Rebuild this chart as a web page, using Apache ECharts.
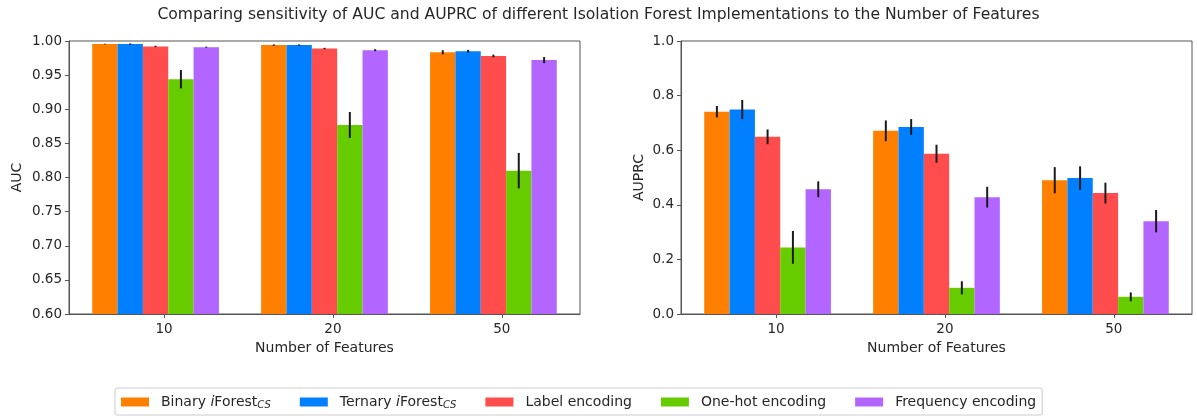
<!DOCTYPE html>
<html>
<head>
<meta charset="utf-8">
<script src="https://cdn.jsdelivr.net/npm/echarts@6/dist/echarts.min.js"></script>
<style>
  html, body { margin: 0; padding: 0; background: #fff; }
  #chart { width: 1197px; height: 419px; }
</style>
</head>
<body>
<div id="chart"></div>
<script>
// Number of features on the x axis
const featureCounts = ['10', '20', '50'];

// Implementations compared (the "_CS" suffix is rendered as a subscript)
const methodNames = [
  'Binary iForest_CS',
  'Ternary iForest_CS',
  'Label encoding',
  'One-hot encoding',
  'Frequency encoding'
];

// AUC mean and spread, one row per implementation, one column per feature count
const aucMean = [
  [0.9955, 0.994, 0.9835],
  [0.9955, 0.994, 0.985],
  [0.992, 0.989, 0.978],
  [0.944, 0.877, 0.810],
  [0.991, 0.9865, 0.972]
];
const aucErr = [
  [0.0005, 0.001, 0.003],
  [0.001, 0.001, 0.002],
  [0.001, 0.001, 0.002],
  [0.0135, 0.019, 0.026],
  [0.0008, 0.0015, 0.0045]
];

// AUPRC mean and spread
const auprcMean = [
  [0.741, 0.671, 0.490],
  [0.749, 0.685, 0.498],
  [0.649, 0.587, 0.443],
  [0.244, 0.096, 0.063],
  [0.457, 0.428, 0.340]
];
const auprcErr = [
  [0.021, 0.038, 0.048],
  [0.035, 0.029, 0.043],
  [0.027, 0.033, 0.038],
  [0.060, 0.024, 0.016],
  [0.029, 0.038, 0.041]
];

// ---- styling ----
const methodColors = ['#ff7f00', '#007fff', '#ff4c4c', '#66cc00', '#b266ff'];
const barOffsets = [-0.35, -0.2, -0.05, 0.1, 0.25];
const BAR_W = 0.15;
const FONT = 'DejaVu Sans';
const TEXT = '#262626';
const FRAME = '#555';
const TICK_SIZE = 13.5;
const LABEL_SIZE = 14;

function barWithError(offset, base) {
  return function (params, api) {
    const g = api.value(0), mean = api.value(1), err = api.value(2);
    const xc = g + offset;
    const pTop = api.coord([xc - BAR_W / 2, mean]);
    const pBase = api.coord([xc + BAR_W / 2, base]);
    const eHi = api.coord([xc, mean + err]);
    const eLo = api.coord([xc, mean - err]);
    return {
      type: 'group',
      children: [
        {
          type: 'rect',
          shape: { x: pTop[0], y: pTop[1], width: pBase[0] - pTop[0], height: pBase[1] - pTop[1] },
          style: { fill: api.visual('color') }
        },
        {
          type: 'line',
          z2: 10,
          shape: { x1: eHi[0], y1: eHi[1], x2: eLo[0], y2: eLo[1] },
          style: { stroke: '#1a1a1a', lineWidth: 2 }
        }
      ]
    };
  };
}

function xAxisFor(gridIndex) {
  return {
    type: 'value', gridIndex,
    min: -0.5625, max: 2.4625,
    name: 'Number of Features', nameLocation: 'middle', nameGap: 27,
    nameTextStyle: { fontFamily: FONT, fontSize: LABEL_SIZE, color: TEXT },
    axisLine: { show: true, onZero: false, lineStyle: { color: FRAME, width: 1 } },
    axisTick: { show: true, length: 4, customValues: [0, 1, 2], lineStyle: { color: FRAME } },
    axisLabel: {
      customValues: [0, 1, 2], margin: 8,
      fontFamily: FONT, fontSize: TICK_SIZE, color: TEXT,
      formatter: v => featureCounts[Math.round(v)]
    },
    splitLine: { show: false }
  };
}

function yAxisFor(gridIndex, name, min, max, interval, digits, nameGap) {
  return {
    type: 'value', gridIndex, min, max, interval,
    name, nameLocation: 'middle', nameGap, nameRotate: 90,
    nameTextStyle: { fontFamily: FONT, fontSize: LABEL_SIZE, color: TEXT },
    axisLine: { show: true, onZero: false, lineStyle: { color: FRAME, width: 1 } },
    axisTick: { show: true, length: 4, lineStyle: { color: FRAME } },
    axisLabel: {
      margin: 7, fontFamily: FONT, fontSize: TICK_SIZE, color: TEXT,
      formatter: v => v.toFixed(digits)
    },
    splitLine: { show: false }
  };
}

const series = [];
methodNames.forEach((name, m) => {
  series.push({
    name, type: 'custom', xAxisIndex: 0, yAxisIndex: 0,
    itemStyle: { color: methodColors[m] },
    renderItem: barWithError(barOffsets[m], 0.6),
    encode: { x: 0, y: 1 },
    clip: true,
    data: featureCounts.map((_, g) => [g, aucMean[m][g], aucErr[m][g]])
  });
  series.push({
    name, type: 'custom', xAxisIndex: 1, yAxisIndex: 1,
    itemStyle: { color: methodColors[m] },
    renderItem: barWithError(barOffsets[m], 0),
    encode: { x: 0, y: 1 },
    clip: true,
    data: featureCounts.map((_, g) => [g, auprcMean[m][g], auprcErr[m][g]])
  });
});

function legendLabel(name) {
  const parts = name.split('_');
  if (parts.length === 2) {
    const words = parts[0].split(' ');
    const last = words.pop();           // e.g. "iForest"
    const prefix = words.join(' ');
    return `{n|${prefix} }{it|${last[0]}}{n|${last.slice(1)}}{sub|${parts[1]}}`;
  }
  return `{n|${name}}`;
}

const chart = echarts.init(document.getElementById('chart'), null, { renderer: 'canvas' });
chart.setOption({
  animation: false,
  backgroundColor: '#fff',
  title: {
    text: 'Comparing sensitivity of AUC and AUPRC of different Isolation Forest Implementations to the Number of Features',
    left: 'center', top: 2,
    textStyle: { fontFamily: FONT, fontSize: 15.6, fontWeight: 'normal', color: TEXT }
  },
  grid: [
    { left: 69, top: 41, width: 511, height: 273, show: true, borderColor: FRAME, borderWidth: 1, backgroundColor: 'transparent' },
    { left: 681, top: 41, width: 511, height: 273, show: true, borderColor: FRAME, borderWidth: 1, backgroundColor: 'transparent' }
  ],
  xAxis: [xAxisFor(0), xAxisFor(1)],
  yAxis: [
    yAxisFor(0, 'AUC', 0.6, 1.0, 0.05, 2, 45),
    yAxisFor(1, 'AUPRC', 0, 1.0, 0.2, 1, 35)
  ],
  legend: {
    data: methodNames,
    left: 115, top: 388,
    orient: 'horizontal',
    icon: 'rect',
    itemWidth: 28, itemHeight: 9, itemGap: 29,
    padding: [6, 6, 5, 6],
    borderColor: '#ccc', borderWidth: 1, borderRadius: 2,
    formatter: legendLabel,
    textStyle: {
      padding: [0, 0, 0, 7],
      rich: {
        n: { fontFamily: FONT, fontSize: LABEL_SIZE, color: TEXT, lineHeight: 16 },
        it: { fontFamily: FONT, fontSize: LABEL_SIZE, fontStyle: 'italic', color: TEXT, lineHeight: 16 },
        sub: { fontFamily: FONT, fontSize: 10, fontStyle: 'italic', color: TEXT, lineHeight: 16, verticalAlign: 'bottom', padding: [6, 0, 0, 0] }
      }
    }
  },
  series
});
</script>
</body>
</html>
